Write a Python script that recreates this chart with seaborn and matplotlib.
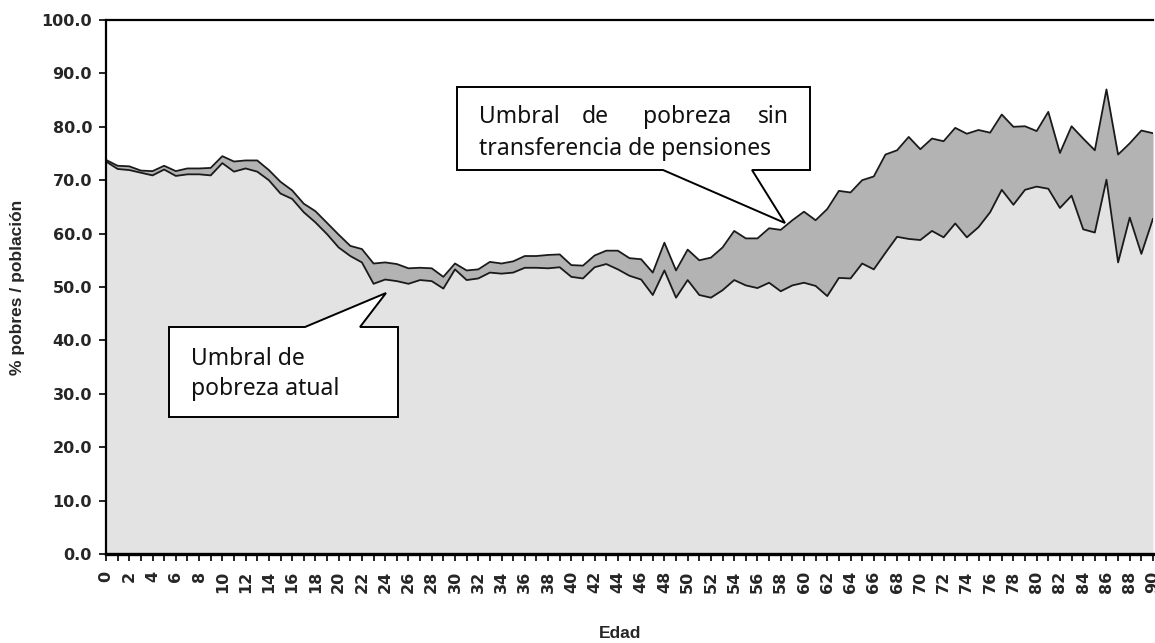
import matplotlib
matplotlib.use("Agg")
import matplotlib.pyplot as plt
from matplotlib.patches import Polygon
from matplotlib.ticker import MultipleLocator
import pandas as pd
import seaborn as sns

# Datos: % de pobres por edad
edad = list(range(0, 91))

pobreza_atual = [
    73.5, 72.1, 71.9, 71.4, 70.9, 72.0, 70.8, 71.1, 71.1, 70.9,
    73.2, 71.6, 72.2, 71.6, 70.0, 67.5, 66.5, 64.0, 62.1, 59.9,
    57.4, 55.8, 54.6, 50.6, 51.4, 51.1, 50.6, 51.3, 51.1, 49.7,
    53.3, 51.3, 51.6, 52.7, 52.5, 52.7, 53.6, 53.6, 53.5, 53.7,
    51.9, 51.6, 53.7, 54.3, 53.3, 52.1, 51.4, 48.5, 53.1, 48.0,
    51.3, 48.5, 48.0, 49.4, 51.3, 50.3, 49.8, 50.8, 49.2, 50.3,
    50.8, 50.2, 48.3, 51.7, 51.6, 54.4, 53.3, 56.4, 59.4, 59.0,
    58.8, 60.5, 59.3, 61.9, 59.3, 61.2, 64.0, 68.2, 65.4, 68.2,
    68.8, 68.4, 64.8, 67.1, 60.8, 60.2, 70.1, 54.6, 63.0, 56.2,
    62.8,
]

pobreza_sin_pensiones = [
    73.8, 72.7, 72.6, 71.8, 71.7, 72.7, 71.7, 72.2, 72.2, 72.3,
    74.5, 73.5, 73.7, 73.7, 71.9, 69.7, 68.1, 65.6, 64.2, 62.0,
    59.8, 57.7, 57.1, 54.4, 54.6, 54.3, 53.5, 53.6, 53.5, 51.9,
    54.4, 53.1, 53.3, 54.7, 54.4, 54.8, 55.8, 55.8, 56.0, 56.1,
    54.1, 54.0, 55.9, 56.8, 56.8, 55.4, 55.2, 52.7, 58.3, 53.1,
    57.0, 55.0, 55.5, 57.4, 60.5, 59.1, 59.1, 61.0, 60.7, 62.5,
    64.1, 62.5, 64.6, 68.0, 67.7, 70.0, 70.7, 74.8, 75.6, 78.1,
    75.8, 77.8, 77.3, 79.8, 78.7, 79.4, 78.9, 82.3, 80.0, 80.1,
    79.2, 82.8, 75.1, 80.1, 77.8, 75.6, 87.0, 74.8, 76.9, 79.3,
    78.8,
]

df = pd.DataFrame({
    "edad": edad,
    "atual": pobreza_atual,
    "sin_pensiones": pobreza_sin_pensiones,
})

sns.set_style("ticks")
plt.rcParams["font.family"] = ["Liberation Sans", "DejaVu Sans"]

W, H = 1155, 643
fig = plt.figure(figsize=(W / 100, H / 100), dpi=100)
ax = fig.add_axes([106 / W, 1 - 554 / H, (1153 - 106) / W, (554 - 20) / H])

# Áreas
ax.fill_between(df["edad"], 0, df["atual"], color="#e3e3e3", lw=0, zorder=1)
ax.fill_between(df["edad"], df["atual"], df["sin_pensiones"], color="#b3b3b3", lw=0, zorder=1)
sns.lineplot(data=df, x="edad", y="atual", color="#1a1a1a", lw=1.3, ax=ax, zorder=2)
sns.lineplot(data=df, x="edad", y="sin_pensiones", color="#1a1a1a", lw=1.3, ax=ax, zorder=2)

ax.set_xlim(0, 90)
ax.set_ylim(0, 100)
ax.set_yticks(range(0, 101, 10))
ax.set_yticklabels([f"{v:.1f}" for v in range(0, 101, 10)], fontweight="bold", fontsize=11.5,
                   family="DejaVu Sans")
ax.set_xticks(range(0, 91, 2))
ax.set_xticklabels([str(v) for v in range(0, 91, 2)], rotation=90, fontweight="bold",
                   fontsize=11.5, family="DejaVu Sans")
ax.xaxis.set_minor_locator(MultipleLocator(1))
ax.tick_params(axis="both", which="both", direction="out", length=5, width=1.2, color="black")
ax.tick_params(axis="x", pad=7)
ax.tick_params(axis="y", pad=5)

for side in ["left", "top", "bottom"]:
    ax.spines[side].set_color("black")
ax.spines["left"].set_linewidth(1.6)
ax.spines["top"].set_linewidth(1.6)
ax.spines["bottom"].set_linewidth(2.4)
ax.spines["right"].set_visible(False)

ax.set_xlabel("")
ax.set_ylabel("")
fig.text(18 / W, 1 - 287 / H, "% pobres / población", rotation=90, fontsize=12.5,
         fontweight="bold", ha="center", va="center")
fig.text(620 / W, 1 - 634 / H, "Edad", fontsize=12.5, fontweight="bold", ha="center", va="center")


def fp(x, y):
    return (x / W, 1 - y / H)


# Llamada 1
caja1 = [fp(169, 327), fp(305, 327), fp(386, 293), fp(360, 327), fp(398, 327),
         fp(398, 417), fp(169, 417)]
ax.add_patch(Polygon(caja1, closed=True, facecolor="white", edgecolor="black", lw=1.4,
                     transform=fig.transFigure, clip_on=False, zorder=5))
txt = dict(family=["Noto Sans", "DejaVu Sans"], fontsize=16.5, color="#111111", zorder=6)
fig.text(*fp(191, 365), "Umbral de", ha="left", va="baseline", **txt)
fig.text(*fp(191, 395), "pobreza atual", ha="left", va="baseline", **txt)

# Llamada 2
caja2 = [fp(457, 87), fp(810, 87), fp(810, 170), fp(752, 170), fp(785, 223),
         fp(663, 170), fp(457, 170)]
ax.add_patch(Polygon(caja2, closed=True, facecolor="white", edgecolor="black", lw=1.4,
                     transform=fig.transFigure, clip_on=False, zorder=5))
fig.text(*fp(479, 123), "Umbral", ha="left", va="baseline", **txt)
fig.text(*fp(582, 123), "de", ha="left", va="baseline", **txt)
fig.text(*fp(643, 123), "pobreza", ha="left", va="baseline", **txt)
fig.text(*fp(789, 123), "sin", ha="right", va="baseline", **txt)
fig.text(*fp(479, 155), "transferencia de pensiones", ha="left", va="baseline", **txt)

fig.savefig("out.png", dpi=100)
